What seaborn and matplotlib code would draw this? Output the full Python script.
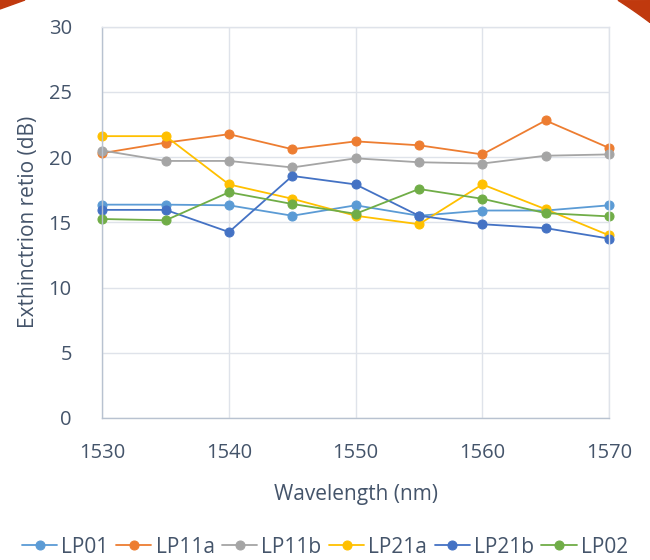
import matplotlib
matplotlib.use("Agg")
import matplotlib.pyplot as plt
import seaborn as sns
import pandas as pd
import numpy as np
from matplotlib.patches import Polygon

sns.set_style("white")
plt.rcParams['font.family'] = ['Open Sans', 'DejaVu Sans']

# ======================================
# data
# ======================================
wavelength = [1530, 1535, 1540, 1545, 1550, 1555, 1560, 1565, 1570]
modes = ['LP01', 'LP11a', 'LP11b', 'LP21a', 'LP21b', 'LP02']

lp01 = [16.35, 16.35, 16.3, 15.5, 16.3, 15.5, 15.9, 15.9, 16.3]
lp11a = [20.3, 21.1, 21.75, 20.6, 21.2, 20.9, 20.2, 22.8, 20.7]
lp11b = [20.5, 19.7, 19.7, 19.2, 19.9, 19.6, 19.5, 20.1, 20.2]
lp21a = [21.6, 21.6, 17.9, 16.8, 15.5, 14.85, 17.9, 16.0, 14.0]
lp21b = [15.95, 15.95, 14.25, 18.55, 17.9, 15.5, 14.85, 14.55, 13.75]
lp02 = [15.25, 15.15, 17.3, 16.4, 15.65, 17.55, 16.8, 15.7, 15.45]

colors = ['#5B9BD5', '#ED7D31', '#A5A5A5', '#FFC000', '#4472C4', '#70AD47']
text_color = '#44546A'

series = dict(zip(modes, [lp01, lp11a, lp11b, lp21a, lp21b, lp02]))
df = pd.DataFrame([
    {'Wavelength': w, 'ER': v, 'Mode': m}
    for m in modes for w, v in zip(wavelength, series[m])
])

# ======================================
# figure
# ======================================
fig = plt.figure(figsize=(6.5, 5.6), dpi=100)
ax = fig.add_axes([0.1574, 0.2536, 0.7795, 0.699])

for mode, col in zip(modes, colors):
    sub = df[df['Mode'] == mode]
    sns.lineplot(data=sub, x='Wavelength', y='ER', ax=ax, color=col,
                 marker='o', markersize=8.5, markeredgecolor=col,
                 linewidth=1.3, label=mode, legend=False, clip_on=False)

ax.set_xlim(1530, 1570)
ax.set_ylim(0, 30)
ax.set_xticks(np.arange(1530, 1571, 10))
ax.set_yticks(np.arange(0, 31, 5))
ax.grid(True, color='#dfe3ea', linewidth=1.0)
ax.set_axisbelow(True)
for side in ['top', 'right']:
    ax.spines[side].set_color('#dfe3ea')
for side in ['left', 'bottom']:
    ax.spines[side].set_color('#b8c2d0')
for sp in ax.spines.values():
    sp.set_linewidth(1.0)

ax.tick_params(axis='both', length=0, labelsize=14.5, labelcolor=text_color)
ax.tick_params(axis='y', pad=22)
ax.tick_params(axis='x', pad=18)
ax.set_xlabel('Wavelength (nm)', fontsize=15, color=text_color, labelpad=15)
ax.set_ylabel('Exthinctrion retio (dB)', fontsize=15, color=text_color, labelpad=7)

handles, labels = ax.get_legend_handles_labels()
for h in handles:
    h.set_markersize(6.5)
fig.legend(handles, labels, loc='center', bbox_to_anchor=(0.5, 0.023), ncol=6,
           frameon=False, fontsize=15, handlelength=1.7, handletextpad=0.2,
           columnspacing=0.35, labelcolor=text_color)

# red page corners of the slide behind the chart
red = '#c0390e'
W, H = 650.0, 560.0
fig.patches.append(Polygon([[0, 1], [25 / W, 1], [0, 1 - 9 / H]], closed=True,
                           transform=fig.transFigure, color=red, zorder=-1))
cx, cy, r = 350.0, 420.0, 498.0
xs = np.linspace(618, 650, 30)
ys = cy - np.sqrt(np.clip(r ** 2 - (xs - cx) ** 2, 0, None))
pts = [[x / W, 1 - max(y, 0) / H] for x, y in zip(xs, ys)] + [[1.0, 1.0]]
fig.patches.append(Polygon(pts, closed=True, transform=fig.transFigure,
                           color=red, zorder=-1))

fig.savefig('out.png', dpi=100)
